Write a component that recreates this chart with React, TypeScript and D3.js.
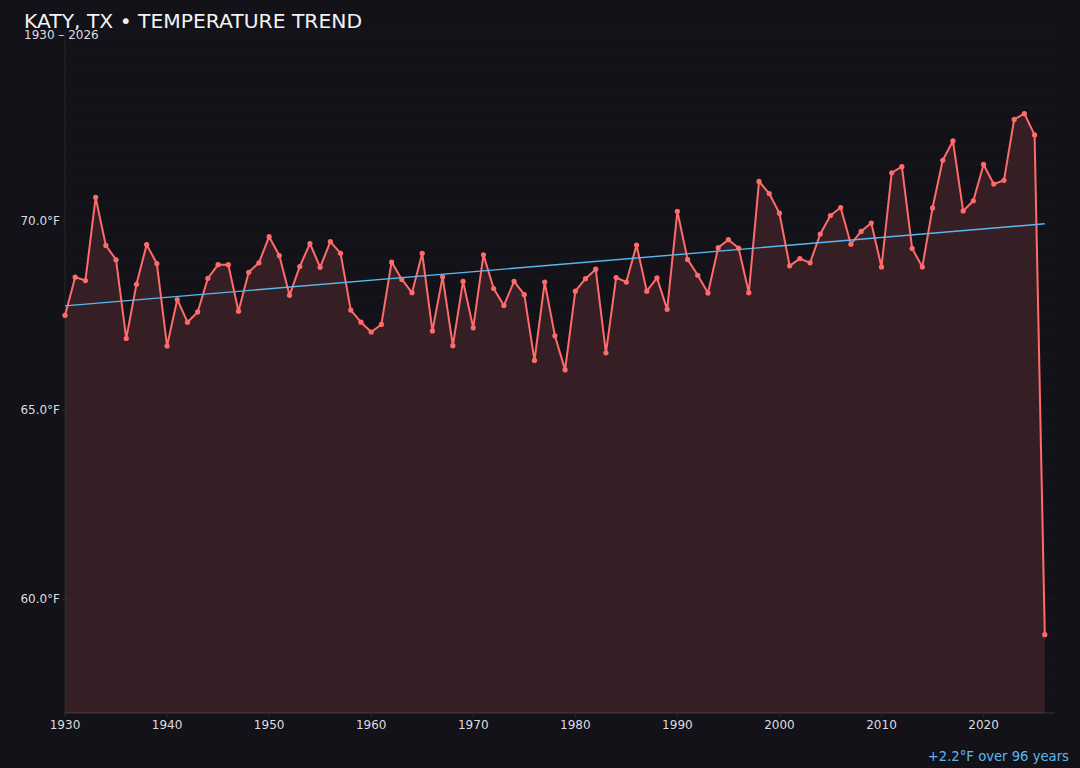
import { useMemo } from 'react'
import * as d3 from 'd3'

const YEARS = d3.range(1930, 2027)
const TEMPS = [
  67.51, 68.52, 68.43, 70.63, 69.36, 68.98, 66.90, 68.33, 69.38, 68.88,
  66.70, 67.93, 67.33, 67.60, 68.49, 68.85, 68.85, 67.62, 68.65, 68.90,
  69.59, 69.09, 68.04, 68.80, 69.41, 68.78, 69.46, 69.15, 67.65, 67.33,
  67.07, 67.27, 68.92, 68.46, 68.11, 69.15, 67.10, 68.53, 66.71, 68.41,
  67.18, 69.11, 68.22, 67.77, 68.41, 68.06, 66.32, 68.39, 66.97, 66.07,
  68.15, 68.48, 68.73, 66.52, 68.51, 68.39, 69.37, 68.15, 68.50, 67.67,
  70.26, 68.99, 68.57, 68.10, 69.30, 69.51, 69.29, 68.11, 71.05, 70.73,
  70.21, 68.82, 69.01, 68.90, 69.66, 70.15, 70.36, 69.39, 69.73, 69.95,
  68.79, 71.28, 71.44, 69.28, 68.79, 70.35, 71.61, 72.12, 70.27, 70.54,
  71.50, 70.98, 71.08, 72.69, 72.84, 72.28, 59.07,
]
const TREND_YEARS = [1930, 2026]
const TREND_TEMPS = [67.76, 69.93]
const Y_LABEL_TICKS = [60, 65, 70]
const X_TICKS = [1930, 1940, 1950, 1960, 1970, 1980, 1990, 2000, 2010, 2020]

const W = 1080
const H = 768
const M = { top: 32, right: 25, bottom: 55, left: 65 }
const BG = '#131218'
const LINE = '#ff6b6b'
const TREND = '#5ab8ee'
const FONT = "'DejaVu Sans', Verdana, sans-serif"

type Pt = { year: number; temp: number }

export default function App() {
  const data: Pt[] = useMemo(() => YEARS.map((year, i) => ({ year, temp: TEMPS[i] })), [])

  const x = d3.scaleLinear([1930, 2027], [M.left, W - M.right])
  const y = d3.scaleLinear([57, 75], [H - M.bottom, M.top])

  const line = d3.line<Pt>().x(d => x(d.year)).y(d => y(d.temp))
  const area = d3.area<Pt>().x(d => x(d.year)).y0(y(57)).y1(d => y(d.temp))
  const gridVals = d3.range(57, 75.01, 0.5)

  return (
    <div style={{ position: 'fixed', left: 0, top: 0, width: W, height: H, background: BG }}>
      <svg width={W} height={H} style={{ display: 'block', fontFamily: FONT }}>
        <rect width={W} height={H} fill={BG} />

        {/* grid */}
        {gridVals.map(v => (
          <line key={v} x1={M.left} x2={W - M.right} y1={y(v)} y2={y(v)}
            stroke="#ffffff" strokeOpacity={0.022} />
        ))}

        {/* axes lines */}
        <line x1={M.left} x2={M.left} y1={M.top} y2={H - M.bottom} stroke="#24242d" />
        <line x1={M.left} x2={W - M.right} y1={H - M.bottom} y2={H - M.bottom} stroke="#2a2a34" strokeWidth={1.5} />

        {/* area + line */}
        <path d={area(data) ?? ''} fill={LINE} fillOpacity={0.15} />
        <path d={line(data) ?? ''} fill="none" stroke={LINE} strokeWidth={2} strokeLinejoin="round" />
        {data.map(d => (
          <circle key={d.year} cx={x(d.year)} cy={y(d.temp)} r={2.6} fill={LINE} />
        ))}

        {/* trend */}
        <line x1={x(TREND_YEARS[0])} x2={x(TREND_YEARS[1])}
          y1={y(TREND_TEMPS[0])} y2={y(TREND_TEMPS[1])}
          stroke={TREND} strokeWidth={1.4} />

        {/* y ticks */}
        {Y_LABEL_TICKS.map(v => (
          <g key={v} transform={`translate(${M.left},${y(v)})`}>
            <line x1={-3} x2={0} stroke="#2a2a34" />
            <text x={-5} dy="0.32em" textAnchor="end" fontSize={12} fill="#dcdce0">
              {`${v.toFixed(1)}°F`}
            </text>
          </g>
        ))}

        {/* x ticks */}
        {X_TICKS.map(v => (
          <g key={v} transform={`translate(${x(v)},${H - M.bottom})`}>
            <line y1={0} y2={4} stroke="#2a2a34" />
            <text y={16} textAnchor="middle" fontSize={12} fill="#dcdce0">{v}</text>
          </g>
        ))}

        {/* titles */}
        <text x={24} y={28} fontSize={20.3} fill="#f2f2f4">KATY, TX • TEMPERATURE TREND</text>
        <text x={24} y={39} fontSize={12} fill="#dcdce0">1930 – 2026</text>

        <text x={1069} y={761} textAnchor="end" fontSize={13.2} fill={TREND}>
          {`+${(TREND_TEMPS[1] - TREND_TEMPS[0]).toFixed(1)}°F over ${TREND_YEARS[1] - TREND_YEARS[0]} years`}
        </text>
      </svg>
    </div>
  )
}
